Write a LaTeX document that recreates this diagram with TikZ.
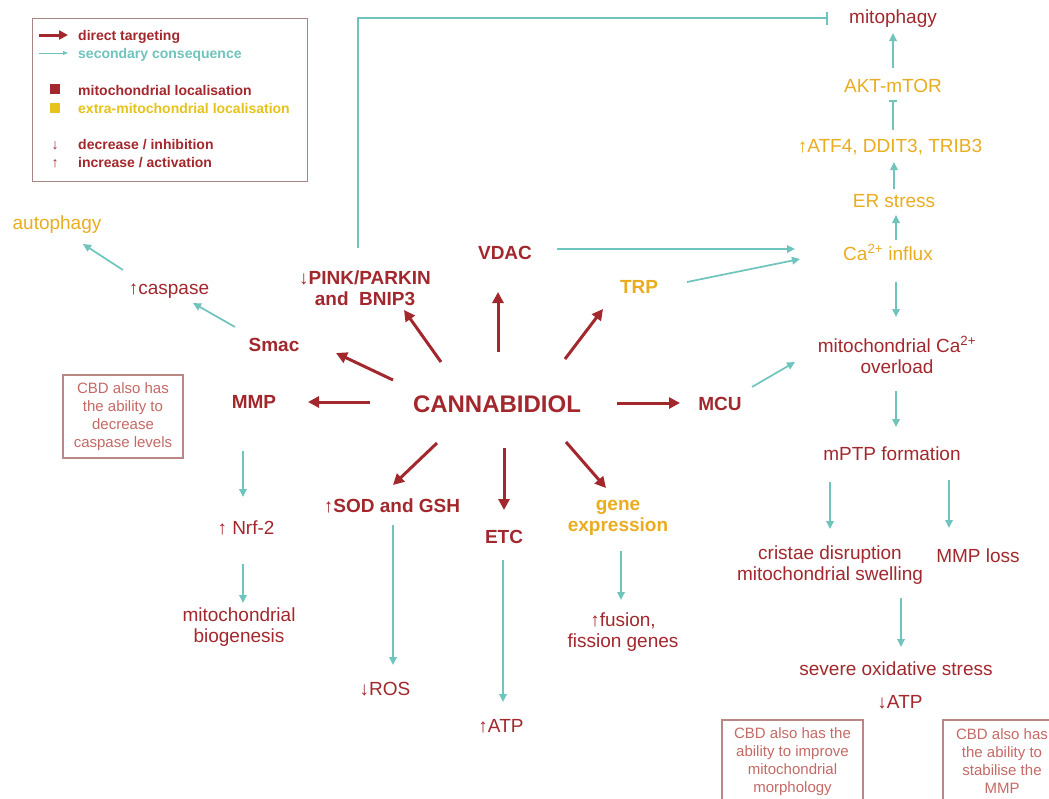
\documentclass[tikz,border=0pt]{standalone}
\usepackage{fontspec}
\setmainfont{Liberation Sans}
\usetikzlibrary{arrows.meta}
\definecolor{cred}{HTML}{A2282D}
\definecolor{cyel}{HTML}{E9AD1F}
\definecolor{lyel}{HTML}{E5C21C}
\definecolor{cteal}{HTML}{6FC4BD}
\definecolor{cnote}{HTML}{BA8884}
\definecolor{cnotetext}{HTML}{C46A66}
\definecolor{clegend}{HTML}{A88482}
\begin{document}
\begin{tikzpicture}[x=1pt,y=-1pt,
  lab/.style={font=\fontsize{19}{21}\selectfont, text=cred, align=center, inner sep=0pt, anchor=base},
  blab/.style={lab, font=\fontsize{19}{21}\selectfont\bfseries},
  ylab/.style={lab, text=cyel},
  yblab/.style={blab, text=cyel},
  leg/.style={font=\fontsize{14}{16}\selectfont\bfseries, text=cred, inner sep=0pt, anchor=base west},
  redarr/.style={draw=cred, line width=3pt, -{Triangle[length=11pt,width=11pt]}},
  tealarr/.style={draw=cteal, line width=1.7pt, -{Triangle[length=8pt,width=7.5pt]}},
  tealbar/.style={draw=cteal, line width=1.7pt, -{Bar[width=13pt,line width=2pt]}},
  note/.style={draw=cnote, line width=1.3pt, text=cnotetext, font=\fontsize{15}{18}\selectfont, align=center, inner sep=0pt},
]
\useasboundingbox[fill=white] (0,0) rectangle (1049,798);
\clip (0,0) rectangle (1049,798);

% legend
\node[draw=clegend, line width=1.3pt, minimum width=275pt, minimum height=163pt, inner sep=0pt, anchor=north west] (legend) at (32,18) {};
\coordinate (l1a) at (39,35); \coordinate (l1b) at (68,35);
\draw[redarr, -{Triangle[length=9pt,width=9pt]}] (l1a) -- (l1b);
\node[leg] (t1) at (78,40) {direct targeting};
\coordinate (l2a) at (39,53); \coordinate (l2b) at (68,53);
\draw[draw=cteal, line width=1pt, -{Triangle[length=5pt,width=4pt]}] (l2a) -- (l2b);
\node[leg, text=cteal] (t2) at (78,58) {secondary consequence};
\node[fill=cred, minimum size=10pt, inner sep=0pt] (sq1) at (55,89) {};
\node[leg] (t3) at (78,95) {mitochondrial localisation};
\node[fill=lyel, minimum size=10pt, inner sep=0pt] (sq2) at (55,108) {};
\node[leg, text=lyel] (t4) at (78,113) {extra-mitochondrial localisation};
\node[leg, anchor=base] (a1) at (55,149) {↓};
\node[leg] (t5) at (78,149) {decrease / inhibition};
\node[leg, anchor=base] (a2) at (55,167) {↑};
\node[leg] (t6) at (78,167) {increase / activation};

% central nodes (base = baseline of last line)
\node[blab, font=\fontsize{24}{28}\selectfont\bfseries] (cbd) at (497,412) {CANNABIDIOL};
\node[blab] (vdac) at (505,259) {VDAC};
\node[blab] (pink) at (365,305) {↓PINK/PARKIN\\and~~BNIP3};
\node[blab] (smac) at (274,351) {Smac};
\node[blab] (mmp) at (254,408) {MMP};
\node[yblab] (trp) at (639,293) {TRP};
\node[blab] (mcu) at (720,410) {MCU};
\node[blab] (sod) at (392,512) {↑SOD and GSH};
\node[blab] (etc) at (504,543) {ETC};
\node[yblab] (gene) at (618,531) {gene\\expression};

% left / lower nodes
\node[lab] (casp) at (169,294) {↑caspase};
\node[ylab] (autoph) at (57,229) {autophagy};
\node[lab] (nrf) at (246,534) {↑ Nrf-2};
\node[lab] (bio) at (239,642) {mitochondrial\\biogenesis};
\node[lab] (ros) at (385,695) {↓ROS};
\node[lab] (atpa) at (501,732) {↑ATP};
\node[lab] (fus) at (623,647) {↑fusion,\\fission genes};

% right column
\node[lab] (mitoph) at (893,23) {mitophagy};
\node[ylab] (akt) at (893,92) {AKT-mTOR};
\node[ylab] (atf) at (890,152) {↑ATF4, DDIT3, TRIB3};
\node[ylab] (er) at (894,207) {ER stress};
\node[ylab] (ca) at (888,260) {Ca\textsuperscript{2+} influx};
\node[lab] (ovl) at (897,373) {mitochondrial Ca\textsuperscript{2+}\\overload};
\node[lab] (mptp) at (892,460) {mPTP formation};
\node[lab] (crist) at (830,580) {cristae disruption\\mitochondrial swelling};
\node[lab] (mloss) at (978,562) {MMP loss};
\node[lab] (sev) at (896,675) {severe oxidative stress};
\node[lab] (atpb) at (900,708) {↓ATP};

% notes
\node[note, minimum width=120pt, minimum height=83pt] (n1) at (123,416.5) {CBD also has\\the ability to\\decrease\\caspase levels};
\node[note, minimum width=141pt, minimum height=83pt] (n2) at (792.5,761.5) {CBD also has the\\ability to improve\\mitochondrial\\morphology};
\node[note, minimum width=118pt, minimum height=83pt] (n3) at (1002,761.5) {CBD also has\\the ability to\\stabilise the\\MMP};

% direct targeting arrows
\draw[redarr] ([shift={(1,-60)}]cbd.base) -- ([shift={(-7,33)}]vdac.base);
\draw[redarr] ([shift={(-56,-50)}]cbd.base) -- ([shift={(39,5)}]pink.base);
\draw[redarr] ([shift={(-104,-32)}]cbd.base) -- ([shift={(62,2)}]smac.base);
\draw[redarr] ([shift={(-127,-10)}]cbd.base) -- ([shift={(54,-6)}]mmp.base);
\draw[redarr] ([shift={(68,-53)}]cbd.base) -- ([shift={(-36,16)}]trp.base);
\draw[redarr] ([shift={(120,-9)}]cbd.base) -- ([shift={(-40,-7)}]mcu.base);
\draw[redarr] ([shift={(-60,31)}]cbd.base) -- ([shift={(1,-27)}]sod.base);
\draw[redarr] ([shift={(7,36)}]cbd.base) -- ([shift={(0,-33)}]etc.base);
\draw[redarr] ([shift={(69,30)}]cbd.base) -- ([shift={(-12,-43)}]gene.base);

% secondary consequence arrows
\draw[tealarr] ([shift={(-39,-24)}]smac.base) -- ([shift={(24,9)}]casp.base);
\draw[tealarr] ([shift={(-46,-24)}]casp.base) -- ([shift={(26,15)}]autoph.base);
\draw[tealarr] ([shift={(-11,43)}]mmp.base) -- ([shift={(-3,-37)}]nrf.base);
\draw[tealarr] ([shift={(-3,30)}]nrf.base) -- ([shift={(4,-39)}]bio.base);
\draw[tealarr] ([shift={(1,13)}]sod.base) -- ([shift={(8,-30)}]ros.base);
\draw[tealarr] ([shift={(-1,17)}]etc.base) -- ([shift={(2,-30)}]atpa.base);
\draw[tealarr] ([shift={(3,20)}]gene.base) -- ([shift={(-2,-47)}]fus.base);
\draw[tealbar] ([shift={(-7,-57)}]pink.base) |- ([shift={(-65,-5)}]mitoph.base);
\draw[tealarr] ([shift={(52,-10)}]vdac.base) -- ([shift={(-93,-11)}]ca.base);
\draw[tealarr] ([shift={(48,-11)}]trp.base) -- ([shift={(-88,-1)}]ca.base);
\draw[tealarr] ([shift={(8,-20)}]ca.base) -- ([shift={(2,8)}]er.base);
\draw[tealarr] ([shift={(0,-18)}]er.base) -- ([shift={(4,10)}]atf.base);
\draw[draw=cteal, line width=1.7pt, -{Bar[width=8pt,line width=1.7pt]}] ([shift={(3,-22)}]atf.base) -- ([shift={(0,8)}]akt.base);
\draw[tealarr] ([shift={(0,-24)}]akt.base) -- ([shift={(0,10)}]mitoph.base);
\draw[tealarr] ([shift={(8,22)}]ca.base) -- ([shift={(-1,-56)}]ovl.base);
\draw[tealarr] ([shift={(32,-23)}]mcu.base) -- ([shift={(-102,-11)}]ovl.base);
\draw[tealarr] ([shift={(-1,18)}]ovl.base) -- ([shift={(4,-33)}]mptp.base);
\draw[tealarr] ([shift={(-62,22)}]mptp.base) -- ([shift={(0,-51)}]crist.base);
\draw[tealarr] ([shift={(57,20)}]mptp.base) -- ([shift={(-29,-34)}]mloss.base);
\draw[tealarr] ([shift={(71,18)}]crist.base) -- ([shift={(5,-28)}]sev.base);
\end{tikzpicture}
\end{document}
